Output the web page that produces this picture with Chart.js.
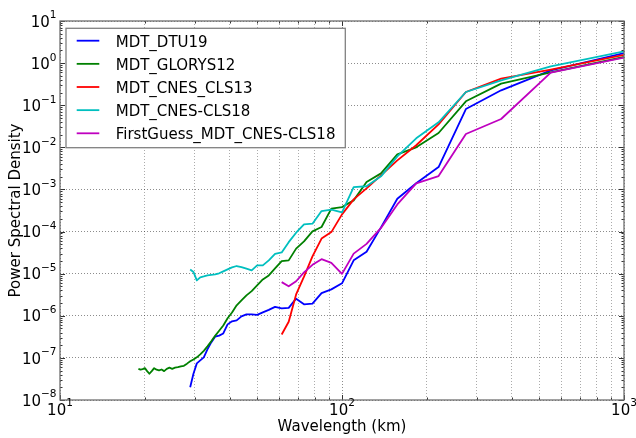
<!DOCTYPE html>
<html><head><meta charset="utf-8">
<script src="https://cdn.jsdelivr.net/npm/chart.js@4/dist/chart.umd.min.js"></script>
<style>html,body{margin:0;padding:0;background:#fff}canvas{display:block}</style>
</head><body>
<canvas id="c" width="636" height="438"></canvas>
<script>
// Wavelengths (km) of the spectral estimates
const wavelengthKm = [1100, 550, 366.7, 275, 220, 183.3, 157.1, 137.5, 122.2, 110,
  100, 91.67, 84.62, 78.57, 73.33, 68.75, 64.71, 61.11, 57.89, 55,
  52.38, 50, 47.83, 45.83, 44, 42.31, 40.74, 39.29, 37.93, 36.67,
  35.48, 34.38, 33.33, 32.35, 31.43, 30.56, 29.73, 28.95, 28.21, 27.5,
  26.83, 26.19, 25.58, 25, 24.44, 23.91, 23.4, 22.92, 22.45, 22,
  21.57, 21.15, 20.75, 20.37, 20, 19.64, 19.3, 18.97];

const mdtDTU19 = [2.01, 0.674, 0.226, 0.0813, 0.0034, 0.0014, 6.0e-4, 1.26e-4, 3.3e-5, 2.07e-5,
  5.9e-6, 4.24e-6, 3.46e-6, 1.94e-6, 1.87e-6, 2.55e-6, 1.54e-6, 1.50e-6, 1.63e-6, 1.38e-6,
  1.20e-6, 1.05e-6, 1.08e-6, 1.08e-6, 9.7e-7, 7.8e-7, 7.4e-7, 6.25e-7, 3.8e-7, 3.37e-7,
  3.19e-7, 2.33e-7, 1.59e-7, 1.03e-7, 8.7e-8, 7.4e-8, 4.2e-8, 2.0e-8];

const mdtGLORYS12 = [1.60, 0.604, 0.326, 0.124, 0.0219, 0.0100, 0.00682, 0.00241, 0.0015, 5.5e-4,
  3.82e-4, 3.5e-4, 1.28e-4, 1.01e-4, 5.85e-5, 3.93e-5, 2.07e-5, 1.99e-5, 1.34e-5, 9.1e-6,
  7.3e-6, 5.3e-6, 3.86e-6, 3.05e-6, 2.32e-6, 1.77e-6, 1.20e-6, 8.7e-7, 5.9e-7, 4.4e-7,
  3.33e-7, 2.47e-7, 1.88e-7, 1.47e-7, 1.21e-7, 1.03e-7, 9.2e-8, 8.3e-8, 7.3e-8, 6.5e-8,
  6.3e-8, 6.0e-8, 5.85e-8, 5.5e-8, 5.85e-8, 5.5e-8, 4.85e-8, 5.3e-8, 5.05e-8, 5.25e-8,
  5.7e-8, 4.85e-8, 4.2e-8, 4.85e-8, 5.7e-8, 5.4e-8, 5.25e-8, 5.5e-8];

const mdtCNES_CLS13 = [1.78, 0.701, 0.428, 0.206, 0.0352, 0.0112, 0.0049, 0.00216, 0.00106, 5.8e-4,
  2.56e-4, 9.7e-5, 6.8e-5, 2.58e-5, 8.5e-6, 3.22e-6, 7.2e-7, 3.6e-7];

const mdtCNES_CLS18 = [2.17, 0.839, 0.390, 0.206, 0.0393, 0.0164, 0.0061, 0.00205, 0.00119, 0.00114,
  2.86e-4, 3.31e-4, 3.07e-4, 1.54e-4, 1.48e-4, 9.4e-5, 5.6e-5, 3.2e-5, 2.95e-5, 2.07e-5,
  1.57e-5, 1.57e-5, 1.20e-5, 1.31e-5, 1.43e-5, 1.52e-5, 1.41e-5, 1.26e-5, 1.13e-5, 1.02e-5,
  9.6e-6, 9.4e-6, 9.1e-6, 8.6e-6, 8.2e-6, 6.9e-6, 1.10e-5, 1.26e-5];

const firstGuessCNES_CLS18 = [1.54, 0.595, 0.047, 0.0207, 0.00208, 0.0014, 4.4e-4, 1.22e-4, 5.1e-5, 2.99e-5,
  9.9e-6, 1.81e-5, 2.21e-5, 1.62e-5, 1.07e-5, 6.6e-6, 5.0e-6, 6.3e-6];

const seriesNames = ['MDT_DTU19', 'MDT_GLORYS12', 'MDT_CNES_CLS13', 'MDT_CNES-CLS18', 'FirstGuess_MDT_CNES-CLS18'];
const seriesValues = [mdtDTU19, mdtGLORYS12, mdtCNES_CLS13, mdtCNES_CLS18, firstGuessCNES_CLS18];
const seriesColors = ['#0000ff', '#008000', '#ff0000', '#00bfbf', '#bf00bf'];

// Axis tick decades (exponents)
const xTickExponents = [1, 2, 3];
const yTickExponents = [-8, -7, -6, -5, -4, -3, -2, -1, 0, 1];
const xTitle = 'Wavelength (km)';
const yTitle = 'Power Spectral Density';

const FONT = '"DejaVu Sans", sans-serif';
const LW = 1.8;

const datasets = seriesNames.map((name, i) => ({
  label: name,
  data: seriesValues[i].map((v, k) => ({x: wavelengthKm[k], y: v})),
  borderColor: seriesColors[i],
  backgroundColor: seriesColors[i],
  borderWidth: LW,
  pointRadius: 0,
  fill: false,
  tension: 0,
  borderJoinStyle: 'round',
  order: seriesNames.length - i
}));

function drawPow(ctx, exp, x, baseline, align) {
  const base = '10';
  const e = String(exp).replace('-', '\u2212');
  ctx.font = '15px ' + FONT;
  const wb = ctx.measureText(base).width;
  ctx.font = '10.5px ' + FONT;
  const we = ctx.measureText(e).width;
  const total = wb + we;
  const start = align === 'right' ? x - total : x - total / 2;
  ctx.textAlign = 'left';
  ctx.textBaseline = 'alphabetic';
  ctx.fillStyle = '#000';
  ctx.font = '15px ' + FONT;
  ctx.fillText(base, start, baseline);
  ctx.font = '10.5px ' + FONT;
  ctx.fillText(e, start + wb, baseline - 8.3);
}

const decorPlugin = {
  id: 'decor',
  afterDatasetsDraw(chart) {
    const {ctx, chartArea: a, scales: {x, y}} = chart;
    ctx.save();
    // tick marks (inward, all sides)
    ctx.strokeStyle = '#333';
    ctx.lineWidth = 1;
    ctx.beginPath();
    xTickExponents.forEach(ex => {
      for (let m = 1; m <= 9; m++) {
        const v = m * Math.pow(10, ex);
        if (v < x.min - 1e-9 || v > x.max + 1e-9) continue;
        const px = Math.round(x.getPixelForValue(v)) + 0.5;
        const len = m === 1 ? 5 : 2.5;
        ctx.moveTo(px, a.bottom); ctx.lineTo(px, a.bottom - len);
        ctx.moveTo(px, a.top); ctx.lineTo(px, a.top + len);
      }
    });
    yTickExponents.forEach(ex => {
      for (let m = 1; m <= 9; m++) {
        const v = m * Math.pow(10, ex);
        if (v < y.min * 0.999 || v > y.max * 1.001) continue;
        const py = Math.round(y.getPixelForValue(v)) + 0.5;
        const len = m === 1 ? 5 : 2.5;
        ctx.moveTo(a.left, py); ctx.lineTo(a.left + len, py);
        ctx.moveTo(a.right, py); ctx.lineTo(a.right - len, py);
      }
    });
    ctx.stroke();
    // frame
    ctx.strokeStyle = '#6f6f6f';
    ctx.lineWidth = 1.3;
    ctx.strokeRect(a.left, a.top, a.right - a.left, a.bottom - a.top);
    // tick labels
    xTickExponents.forEach(ex => {
      drawPow(ctx, ex, x.getPixelForValue(Math.pow(10, ex)), 414.7, 'center');
    });
    yTickExponents.forEach(ex => {
      drawPow(ctx, ex, 56.5, y.getPixelForValue(Math.pow(10, ex)) + 5.7, 'right');
    });
    // legend
    const bx = 66, by = 28.3, bw = 279.3, bh = 119.4;
    ctx.fillStyle = '#fff';
    ctx.fillRect(bx, by, bw, bh);
    ctx.strokeStyle = '#808080';
    ctx.lineWidth = 1.3;
    ctx.strokeRect(bx, by, bw, bh);
    ctx.font = '15px ' + FONT;
    ctx.textAlign = 'left';
    ctx.textBaseline = 'alphabetic';
    chart.data.datasets.forEach((ds, i) => {
      const ry = 40.7 + i * 23.15;
      ctx.strokeStyle = ds.borderColor;
      ctx.lineWidth = LW;
      ctx.beginPath();
      ctx.moveTo(76.7, ry); ctx.lineTo(99.3, ry);
      ctx.stroke();
      ctx.fillStyle = '#000';
      ctx.fillText(ds.label, 115.7, ry + 5.8);
    });
    ctx.restore();
  }
};

const gridColor = c => (c.tick && c.tick.major) ? 'rgba(0,0,0,0.45)' : 'rgba(0,0,0,0.33)';

new Chart(document.getElementById('c'), {
  type: 'line',
  data: {datasets},
  options: {
    responsive: false,
    animation: false,
    devicePixelRatio: 1,
    parsing: true,
    layout: {padding: {top: 21, right: 12, left: 0, bottom: 0}},
    plugins: {legend: {display: false}, tooltip: {enabled: false}},
    scales: {
      x: {
        type: 'logarithmic',
        min: 10, max: 1000,
        afterBuildTicks: s => {
          const t = [];
          xTickExponents.forEach(ex => {
            for (let m = 1; m <= 9; m++) {
              const v = m * Math.pow(10, ex);
              if (v >= 10 && v <= 1000) t.push({value: v, major: m === 1});
            }
          });
          s.ticks = t;
        },
        afterFit: s => { s.height = 38; s.paddingLeft = 0; s.paddingRight = 0; },
        ticks: {display: false},
        grid: {color: gridColor, lineWidth: 1, drawTicks: false},
        border: {display: false, dash: [1, 2]},
        title: {display: true, text: xTitle, color: '#000', font: {family: FONT, size: 15}, padding: {top: 0, bottom: 1.5}}
      },
      y: {
        type: 'logarithmic',
        min: 1e-8, max: 10,
        afterBuildTicks: s => {
          s.ticks = yTickExponents.map(ex => ({value: Math.pow(10, ex), major: true}));
        },
        afterFit: s => { s.width = 60; s.paddingTop = 0; s.paddingBottom = 0; },
        ticks: {display: false},
        grid: {color: gridColor, lineWidth: 1, drawTicks: false},
        border: {display: false, dash: [1, 2]},
        title: {display: true, text: yTitle, color: '#000', font: {family: FONT, size: 15}, padding: {top: 7, bottom: 0}}
      }
    }
  },
  plugins: [decorPlugin]
});
</script>
</body></html>
